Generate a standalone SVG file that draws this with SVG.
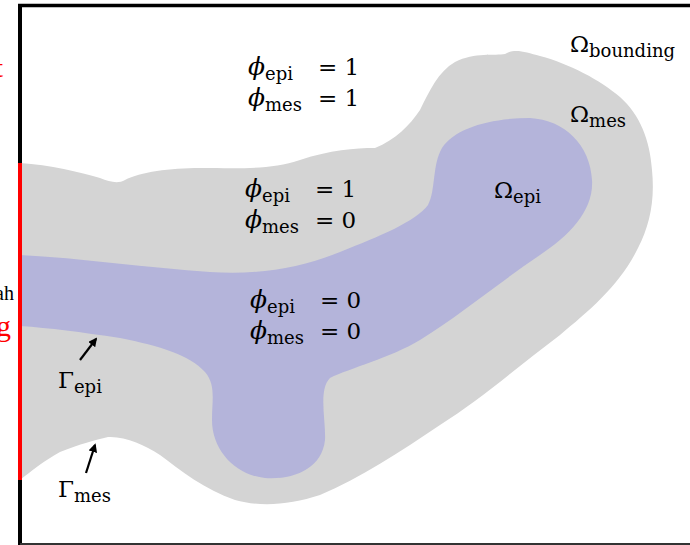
<svg xmlns="http://www.w3.org/2000/svg" width="690" height="545" viewBox="0 0 690 545">
  <style>
    .lbl { font-family: "DejaVu Serif", "Liberation Serif", serif; font-size: 23px; fill: #000; }
    .sym { font-style: italic; font-size: 25px; }
    .sub { font-size: 18px; }
    .arrow { stroke: #000; stroke-width: 2.2; fill: none; marker-end: url(#head); }
  </style>
  <defs>
    <marker id="head" viewBox="0 0 10 10" refX="8" refY="5" markerWidth="4" markerHeight="4" orient="auto">
      <path d="M0,0 L10,5 L0,10 Z" fill="#000"/>
    </marker>
  </defs>
  <rect width="690" height="545" fill="#fff"/>

  <!-- side labels, running off the left edge -->
  <text x="3" y="77" font-family="Liberation Serif, serif" font-size="28" fill="#ff0000" text-anchor="end">t</text>
  <text x="14" y="300" font-family="Liberation Serif, serif" font-size="20" fill="#000" text-anchor="end">ah</text>
  <text x="11" y="336" font-family="Liberation Serif, serif" font-size="30" fill="#ff0000" text-anchor="end">g</text>

  <!-- mesenchyme region -->
  <g id="omega-mes">
    <path fill="#d4d4d4" d="M20,163 C50,165 80,172 100,178 C110,182 118,184 125,180 C140,172 170,168 200,168 C240,168 270,170 300,160 C330,150 355,148 375,148 C395,140 410,125 420,110 C430,90 438,72 455,62 C475,52 495,56 505,54 C515,48 525,52 540,56 C570,64 600,80 620,97 C640,115 650,140 652,170 C655,200 650,225 638,248 C620,285 590,310 560,335 C520,365 480,400 440,425 C400,452 360,478 320,495 C290,505 260,507 235,500 C205,490 180,470 160,455 C145,445 125,436 108,437 C95,440 80,444 60,452 C45,460 30,472 20,480 Z"/>
  </g>

  <!-- epithelium region -->
  <g id="omega-epi">
    <path fill="#b4b4da" d="M20,255 C80,258 150,268 210,272 C260,275 300,268 340,252 C380,236 415,222 428,205 C436,190 432,165 442,148 C455,128 490,118 530,118 C565,120 590,145 592,180 C594,210 570,235 540,255 C500,282 460,315 420,340 C390,358 350,368 330,378 C318,390 326,420 325,440 C322,468 295,480 265,478 C235,475 212,450 212,420 C212,400 216,385 205,372 C190,355 160,346 120,338 C80,332 50,328 20,326 Z"/>
  </g>

  <!-- frame -->
  <g id="frame">
    <line x1="18" y1="5.5" x2="690" y2="5.5" stroke="#000" stroke-width="3.5"/>
    <line x1="20" y1="4" x2="20" y2="545" stroke="#000" stroke-width="4"/>
    <line x1="20" y1="544" x2="690" y2="544" stroke="#333" stroke-width="2"/>
    <line x1="20" y1="163" x2="20" y2="480" stroke="#ff0000" stroke-width="4"/>
  </g>

  <!-- field values -->
  <g id="outer-values" class="lbl">
    <text x="248" y="75"><tspan class="sym">ϕ</tspan><tspan class="sub" dy="5">epi</tspan><tspan dy="-5" x="318">= 1</tspan></text>
    <text x="248" y="106"><tspan class="sym">ϕ</tspan><tspan class="sub" dy="5">mes</tspan><tspan dy="-5" x="318">= 1</tspan></text>
  </g>
  <g id="mes-values" class="lbl">
    <text x="245" y="197"><tspan class="sym">ϕ</tspan><tspan class="sub" dy="5">epi</tspan><tspan dy="-5" x="315">= 1</tspan></text>
    <text x="245" y="228"><tspan class="sym">ϕ</tspan><tspan class="sub" dy="5">mes</tspan><tspan dy="-5" x="315">= 0</tspan></text>
  </g>
  <g id="epi-values" class="lbl">
    <text x="250" y="308"><tspan class="sym">ϕ</tspan><tspan class="sub" dy="5">epi</tspan><tspan dy="-5" x="320">= 0</tspan></text>
    <text x="250" y="339"><tspan class="sym">ϕ</tspan><tspan class="sub" dy="5">mes</tspan><tspan dy="-5" x="320">= 0</tspan></text>
  </g>

  <!-- region names -->
  <g id="label-bounding" class="lbl"><text x="570" y="52">Ω<tspan class="sub" dy="5">bounding</tspan></text></g>
  <g id="label-mes" class="lbl"><text x="570" y="122">Ω<tspan class="sub" dy="5">mes</tspan></text></g>
  <g id="label-epi" class="lbl"><text x="494" y="198">Ω<tspan class="sub" dy="5">epi</tspan></text></g>
  <g id="label-gamma-epi" class="lbl"><text x="58" y="388">Γ<tspan class="sub" dy="5">epi</tspan></text></g>
  <g id="label-gamma-mes" class="lbl"><text x="58" y="497">Γ<tspan class="sub" dy="5">mes</tspan></text></g>

  <!-- boundary pointers -->
  <g id="connectors">
    <line class="arrow" x1="80" y1="360" x2="96" y2="339"/>
    <line class="arrow" x1="86" y1="473" x2="95" y2="445"/>
  </g>
</svg>
